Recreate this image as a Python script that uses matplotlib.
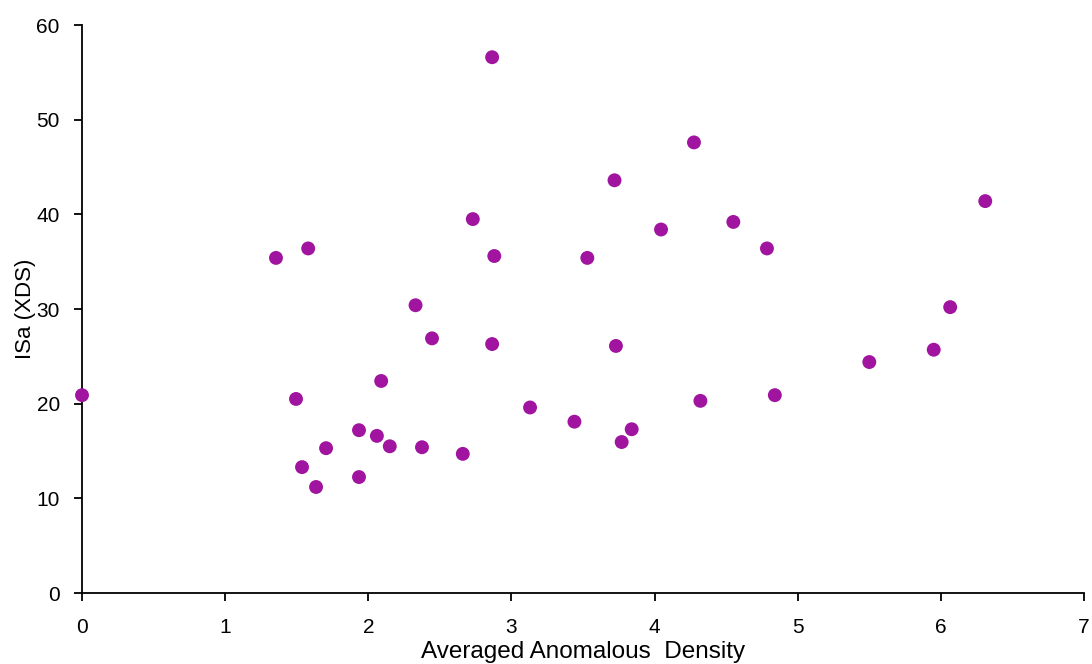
import matplotlib
matplotlib.use("Agg")
import matplotlib.pyplot as plt

# averaged anomalous density vs ISa (XDS)
density = [0.0, 1.355, 1.58, 1.495, 1.537, 1.635, 1.705, 1.935, 1.935, 2.06,
           2.09, 2.15, 2.33, 2.375, 2.445, 2.66, 2.73, 2.865, 2.865, 2.88,
           3.13, 3.44, 3.53, 3.72, 3.73, 3.77, 3.84, 4.045, 4.275, 4.32,
           4.55, 4.785, 4.84, 5.50, 5.95, 6.065, 6.31]
isa = [20.9, 35.4, 36.4, 20.5, 13.3, 11.2, 15.3, 17.2, 12.25, 16.6,
       22.4, 15.5, 30.4, 15.4, 26.9, 14.7, 39.5, 56.6, 26.3, 35.6,
       19.6, 18.1, 35.4, 43.6, 26.1, 15.95, 17.3, 38.4, 47.6, 20.3,
       39.2, 36.4, 20.9, 24.4, 25.7, 30.2, 41.4]

plt.rcParams["font.family"] = ["Liberation Sans", "DejaVu Sans"]

fig = plt.figure(figsize=(10.92, 6.64), dpi=100)
ax = fig.add_axes([0.0751, 0.1069, 0.9176, 0.8554])

ax.scatter(density, isa, s=100, color="#A0149F", edgecolors="none",
           zorder=3, clip_on=False)

ax.set_xlim(0, 7)
ax.set_ylim(0, 60)
ax.set_xticks(range(0, 8))
ax.set_yticks(range(0, 61, 10))

for side in ("top", "right"):
    ax.spines[side].set_visible(False)
for side in ("left", "bottom"):
    ax.spines[side].set_linewidth(1.3)
    ax.spines[side].set_color("black")

ax.tick_params(direction="out", length=6, width=1.3, labelsize=15)
ax.tick_params(axis="x", pad=12)
ax.tick_params(axis="y", pad=10)

ax.set_xlabel("Averaged Anomalous  Density", fontsize=17.5, labelpad=3)
ax.set_ylabel("ISa (XDS)", fontsize=16, labelpad=0)

fig.savefig("out.png", dpi=100)
